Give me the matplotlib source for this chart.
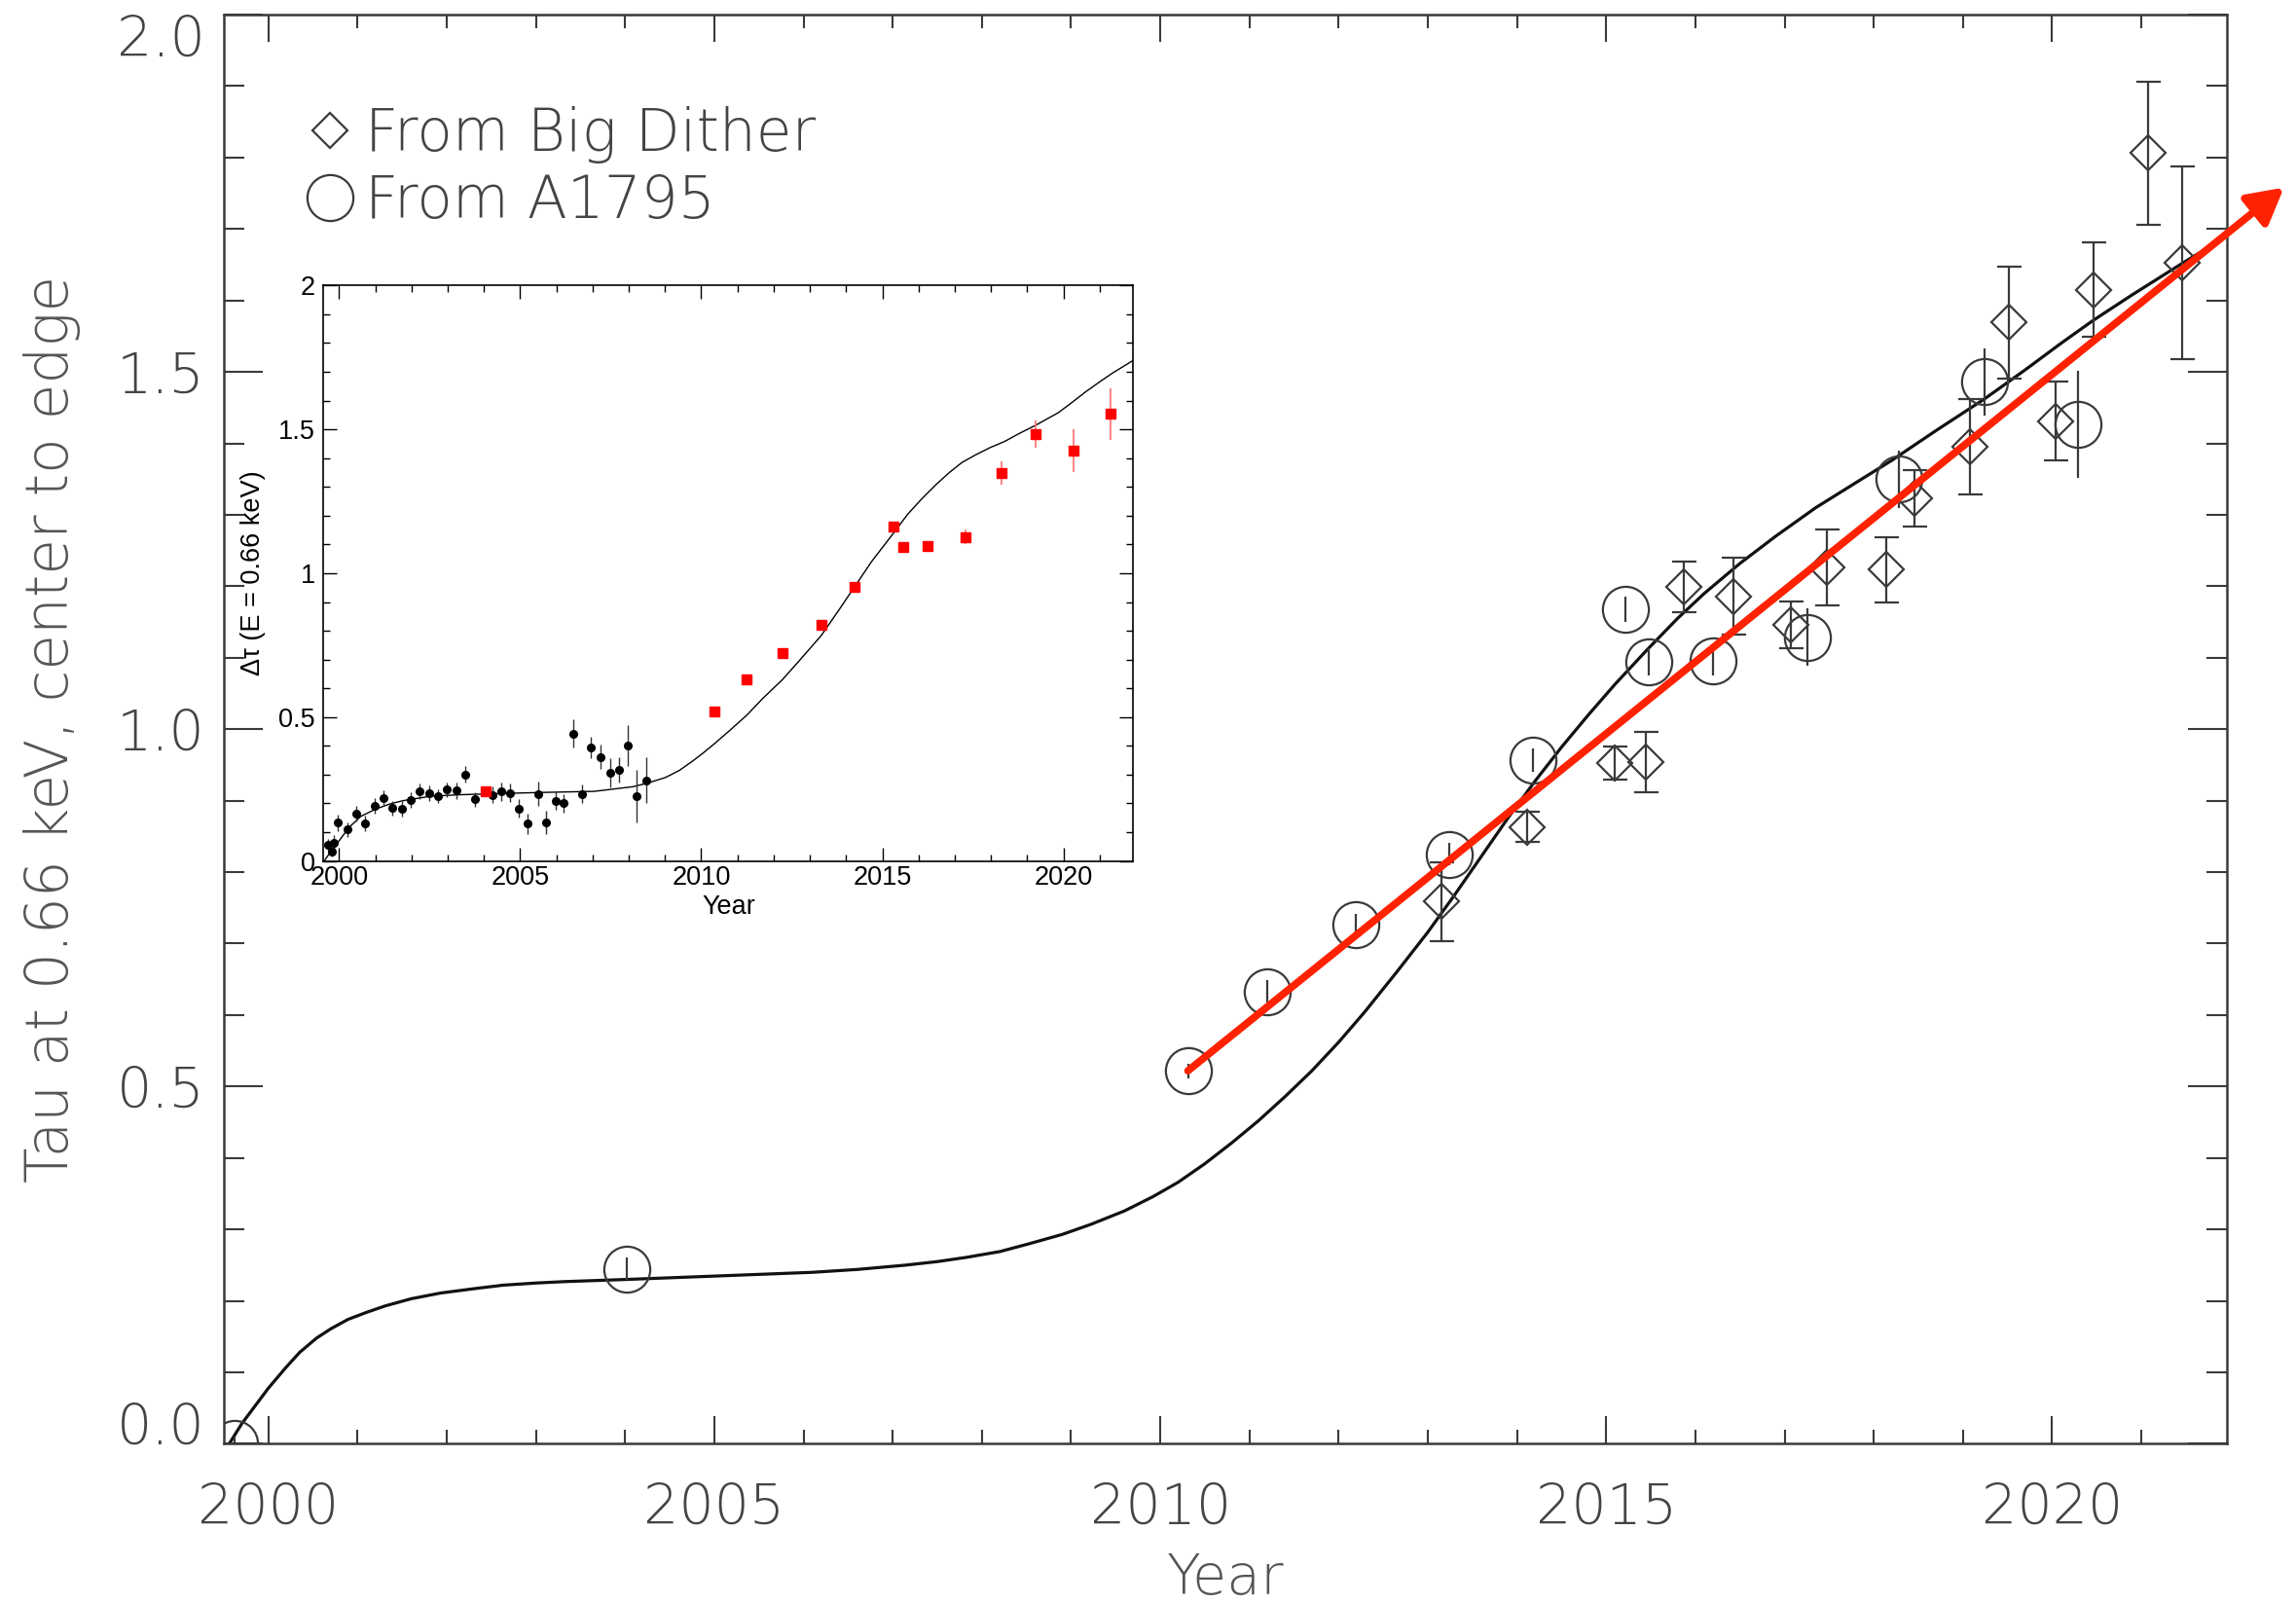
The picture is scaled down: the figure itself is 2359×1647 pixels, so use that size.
import matplotlib.pyplot as plt
from matplotlib.lines import Line2D
from matplotlib.ticker import MultipleLocator

# ---- main panel: model curve
curve_year = [1999.56, 1999.7, 1999.85, 2000.0, 2000.19, 2000.35, 2000.54, 2000.7,
              2000.89, 2001.1, 2001.31, 2001.6, 2001.93, 2002.3, 2002.63, 2003.0,
              2003.32, 2004.01, 2005.06, 2006.1, 2006.6, 2007.14, 2007.5, 2007.83,
              2008.2, 2008.53, 2008.9, 2009.22, 2009.6, 2009.92, 2010.2, 2010.5,
              2010.8, 2011.1, 2011.4, 2011.7, 2012.0, 2012.29, 2012.65, 2013.0,
              2013.3, 2013.6, 2013.9, 2014.2, 2014.5, 2014.8, 2015.1, 2015.45,
              2015.8, 2016.1, 2016.5, 2016.9, 2017.35, 2017.8, 2018.2, 2018.7,
              2019.24, 2019.7, 2020.1, 2020.46, 2020.9, 2021.46, 2021.96]
curve_tau = [0.0, 0.028, 0.053, 0.078, 0.106, 0.128, 0.148, 0.161,
             0.174, 0.184, 0.193, 0.203, 0.211, 0.217, 0.222, 0.225,
             0.227, 0.230, 0.235, 0.240, 0.244, 0.250, 0.255, 0.261,
             0.269, 0.280, 0.293, 0.307, 0.326, 0.346, 0.366, 0.392,
             0.421, 0.452, 0.486, 0.522, 0.562, 0.604, 0.66, 0.716,
             0.768, 0.822, 0.876, 0.927, 0.975, 1.02, 1.063, 1.11,
             1.155, 1.19, 1.232, 1.27, 1.31, 1.345, 1.376, 1.418,
             1.462, 1.503, 1.54, 1.572, 1.608, 1.652, 1.69]

# A1795 (circles)
a1795_year = [1999.62, 2004.02, 2010.31, 2011.2, 2012.19, 2013.24, 2014.18,
              2015.22, 2015.48, 2016.2, 2017.26, 2018.28, 2019.24, 2020.29]
a1795_tau = [0.0, 0.245, 0.522, 0.633, 0.726, 0.825, 0.957,
             1.168, 1.094, 1.095, 1.129, 1.35, 1.486, 1.427]
a1795_err = [0.01, 0.016, 0.01, 0.016, 0.016, 0.016, 0.016,
             0.018, 0.019, 0.02, 0.04, 0.04, 0.047, 0.075]

# Big Dither (diamonds)
dither_year = [2013.15, 2014.11, 2015.10, 2015.44, 2015.87, 2016.43, 2017.07, 2017.48,
               2018.14, 2018.46, 2019.08, 2019.51, 2020.04, 2020.46, 2021.08, 2021.46]
dither_tau = [0.759, 0.863, 0.953, 0.954, 1.199, 1.186, 1.146, 1.226,
              1.223, 1.323, 1.395, 1.569, 1.431, 1.615, 1.806, 1.653]
dither_err = [0.055, 0.021, 0.023, 0.042, 0.035, 0.054, 0.033, 0.053,
              0.046, 0.039, 0.067, 0.078, 0.055, 0.066, 0.10, 0.135]

# red trend arrow (start, tip)
arrow_year = [2010.31, 2022.6]
arrow_tau = [0.522, 1.758]

# ---- inset
inset_curve_year = [1999.59, 1999.7, 1999.82, 2000.0, 2000.27, 2000.6, 2001.02, 2001.4,
                    2001.78, 2002.53, 2003.3, 2004.04, 2005.55, 2007.05, 2008.11, 2008.5,
                    2009.01, 2009.4, 2009.77, 2010.05, 2010.35, 2010.8, 2011.26, 2011.7,
                    2012.24, 2012.7, 2013.31, 2013.8, 2014.24, 2014.7, 2015.30, 2015.7,
                    2016.1, 2016.5, 2016.85, 2017.2, 2017.6, 2018.0, 2018.36, 2018.8,
                    2019.23, 2019.86, 2020.2, 2020.61, 2021.0, 2021.36, 2021.97]
inset_curve_tau = [0.0, 0.02, 0.036, 0.07, 0.116, 0.155, 0.181, 0.198,
                   0.21, 0.225, 0.23, 0.233, 0.238, 0.242, 0.258, 0.27,
                   0.29, 0.315, 0.348, 0.375, 0.406, 0.455, 0.507, 0.565,
                   0.63, 0.695, 0.783, 0.872, 0.954, 1.04, 1.138, 1.205,
                   1.26, 1.31, 1.35, 1.385, 1.413, 1.438, 1.457, 1.487,
                   1.514, 1.558, 1.59, 1.63, 1.665, 1.696, 1.743]

black_year = [1999.70, 1999.79, 1999.86, 1999.97, 2000.23, 2000.47, 2000.72, 2000.98,
              2001.22, 2001.48, 2001.73, 2001.97, 2002.23, 2002.49, 2002.73, 2002.98,
              2003.23, 2003.48, 2003.74, 2004.24, 2004.48, 2004.73, 2004.97, 2005.21,
              2005.49, 2005.71, 2005.97, 2006.21, 2006.47, 2006.72, 2006.96, 2007.22,
              2007.48, 2007.73, 2007.97, 2008.21, 2008.47]
black_tau = [0.055, 0.032, 0.064, 0.133, 0.109, 0.165, 0.130, 0.191,
             0.220, 0.184, 0.181, 0.212, 0.242, 0.235, 0.225, 0.248,
             0.245, 0.300, 0.214, 0.230, 0.242, 0.236, 0.183, 0.130,
             0.233, 0.133, 0.210, 0.201, 0.443, 0.233, 0.394, 0.362,
             0.307, 0.316, 0.401, 0.225, 0.281]
black_err = [0.02, 0.017, 0.026, 0.029, 0.026, 0.026, 0.026, 0.026,
             0.026, 0.026, 0.026, 0.026, 0.026, 0.026, 0.025, 0.025,
             0.029, 0.029, 0.026, 0.029, 0.032, 0.032, 0.032, 0.036,
             0.043, 0.04, 0.032, 0.032, 0.05, 0.032, 0.036, 0.043,
             0.05, 0.043, 0.072, 0.09, 0.08]

red_year = [2004.04, 2010.35, 2011.26, 2012.24, 2013.31, 2014.24, 2015.30,
            2015.57, 2016.26, 2017.29, 2018.28, 2019.23, 2020.29, 2021.31]
red_tau = [0.242, 0.520, 0.632, 0.723, 0.822, 0.954, 1.162,
           1.090, 1.093, 1.126, 1.348, 1.483, 1.425, 1.554]
red_err = [0.01, 0.01, 0.01, 0.01, 0.01, 0.01, 0.015,
           0.017, 0.02, 0.026, 0.04, 0.047, 0.075, 0.09]

gray = '#3a3a3a'
txt = '#444444'
big = 41

fig = plt.figure(figsize=(23.59, 16.47), dpi=100)
ax = fig.add_axes([0.0975, 0.0993, 0.8724, 0.8916])

ax.plot(curve_year, curve_tau, color='#111111', lw=2.3, zorder=2)
ax.errorbar(dither_year, dither_tau, yerr=dither_err, fmt='D', ms=18, mfc='none',
            mec=gray, mew=1.6, ecolor=gray, elinewidth=1.6, capsize=9, capthick=1.6, zorder=3)
ax.errorbar(a1795_year, a1795_tau, yerr=a1795_err, fmt='o', ms=34, mfc='none',
            mec=gray, mew=1.6, ecolor=gray, elinewidth=1.6, capsize=0, zorder=3)

ax.annotate('', xy=(arrow_year[1], arrow_tau[1]), xytext=(arrow_year[0], arrow_tau[0]),
            arrowprops=dict(arrowstyle='-|>,head_length=0.4,head_width=0.22', color='#ff2200',
                            lw=5.5, mutation_scale=55, shrinkA=0, shrinkB=0),
            annotation_clip=False, zorder=10)

ax.set_xlim(1999.5, 2021.96)
ax.set_ylim(0, 2.0)
ax.set_xticks([2000, 2005, 2010, 2015, 2020])
ax.xaxis.set_minor_locator(MultipleLocator(1))
ax.set_yticks([0.0, 0.5, 1.0, 1.5, 2.0])
ax.set_yticklabels(['0.0', '0.5', '1.0', '1.5', '2.0'])
ax.yaxis.set_minor_locator(MultipleLocator(0.1))
ax.tick_params(which='both', direction='in', top=True, right=True, width=1.5, color=gray,
               labelsize=big, labelcolor=txt)
ax.tick_params(axis='x', which='major', length=20, pad=28)
ax.tick_params(axis='x', which='minor', length=10)
ax.tick_params(axis='y', which='major', length=29, pad=14)
ax.tick_params(axis='y', which='minor', length=15)
for s in ax.spines.values():
    s.set_linewidth(1.8)
    s.set_color(gray)
for lab in ax.get_xticklabels() + ax.get_yticklabels():
    lab.set_fontweight('light')
ylabs = ax.get_yticklabels()
ylabs[0].set_va('baseline')
ylabs[-1].set_va('top')

ax.set_xlabel('Year', fontsize=big, color='#555555', fontweight='light')
ax.set_ylabel('Tau at 0.66 keV, center to edge', fontsize=43, color='#555555',
              fontweight='light')
ax.xaxis.set_label_coords(0.5, -0.0944)
ax.xaxis.label.set_va('center')
ax.yaxis.set_label_coords(-0.086, 0.5)
ax.yaxis.label.set_va('center')

handles = [Line2D([], [], ls='none', marker='D', ms=18, mfc='none', mec=gray, mew=1.6),
           Line2D([], [], ls='none', marker='o', ms=34, mfc='none', mec=gray, mew=1.6)]
leg = ax.legend(handles, ['From Big Dither', 'From A1795'], loc='upper left',
                bbox_to_anchor=(0.0416, 0.936), frameon=False, fontsize=43,
                handlelength=0.78, handletextpad=0.22, labelspacing=0.16,
                borderaxespad=0, borderpad=0)
for t in leg.get_texts():
    t.set_color(txt)
    t.set_fontweight('light')

# ---- inset
ins = fig.add_axes([0.1409, 0.4629, 0.3527, 0.3590])
ins.plot(inset_curve_year, inset_curve_tau, color='black', lw=1.0, zorder=2)
ins.errorbar(black_year, black_tau, yerr=black_err, fmt='o', ms=5.5, color='black',
             ecolor='#333333', elinewidth=1.0, capsize=0, zorder=3)
ins.errorbar(red_year, red_tau, yerr=red_err, fmt='s', ms=7, color='#ff0000',
             ecolor='#ff7070', elinewidth=1.2, capsize=0, zorder=3)
ins.set_xlim(1999.57, 2021.93)
ins.set_ylim(0, 2)
ins.set_xticks([2000, 2005, 2010, 2015, 2020])
ins.xaxis.set_minor_locator(MultipleLocator(1))
ins.set_yticks([0, 0.5, 1, 1.5, 2])
ins.set_yticklabels(['0', '0.5', '1', '1.5', '2'])
ins.yaxis.set_minor_locator(MultipleLocator(0.1))
ins.tick_params(which='both', direction='in', top=True, right=True, width=1.0,
                labelsize=19.5, labelfontfamily='Liberation Sans')
ins.tick_params(which='major', length=10)
ins.tick_params(which='minor', length=5)
ins.tick_params(axis='x', pad=3)
ins.tick_params(axis='y', pad=6)
for s in ins.spines.values():
    s.set_linewidth(1.2)
ins.set_xlabel('Year', fontsize=19.5, family='Liberation Sans')
ins.set_ylabel('\u0394\u03c4 (E = 0.66 keV)', fontsize=19.5, family='Liberation Sans')
ins.xaxis.set_label_coords(0.5, -0.080)
ins.xaxis.label.set_va('center')
ins.yaxis.set_label_coords(-0.087, 0.5)
ins.yaxis.label.set_va('center')

fig.savefig('out.png', dpi=100)
